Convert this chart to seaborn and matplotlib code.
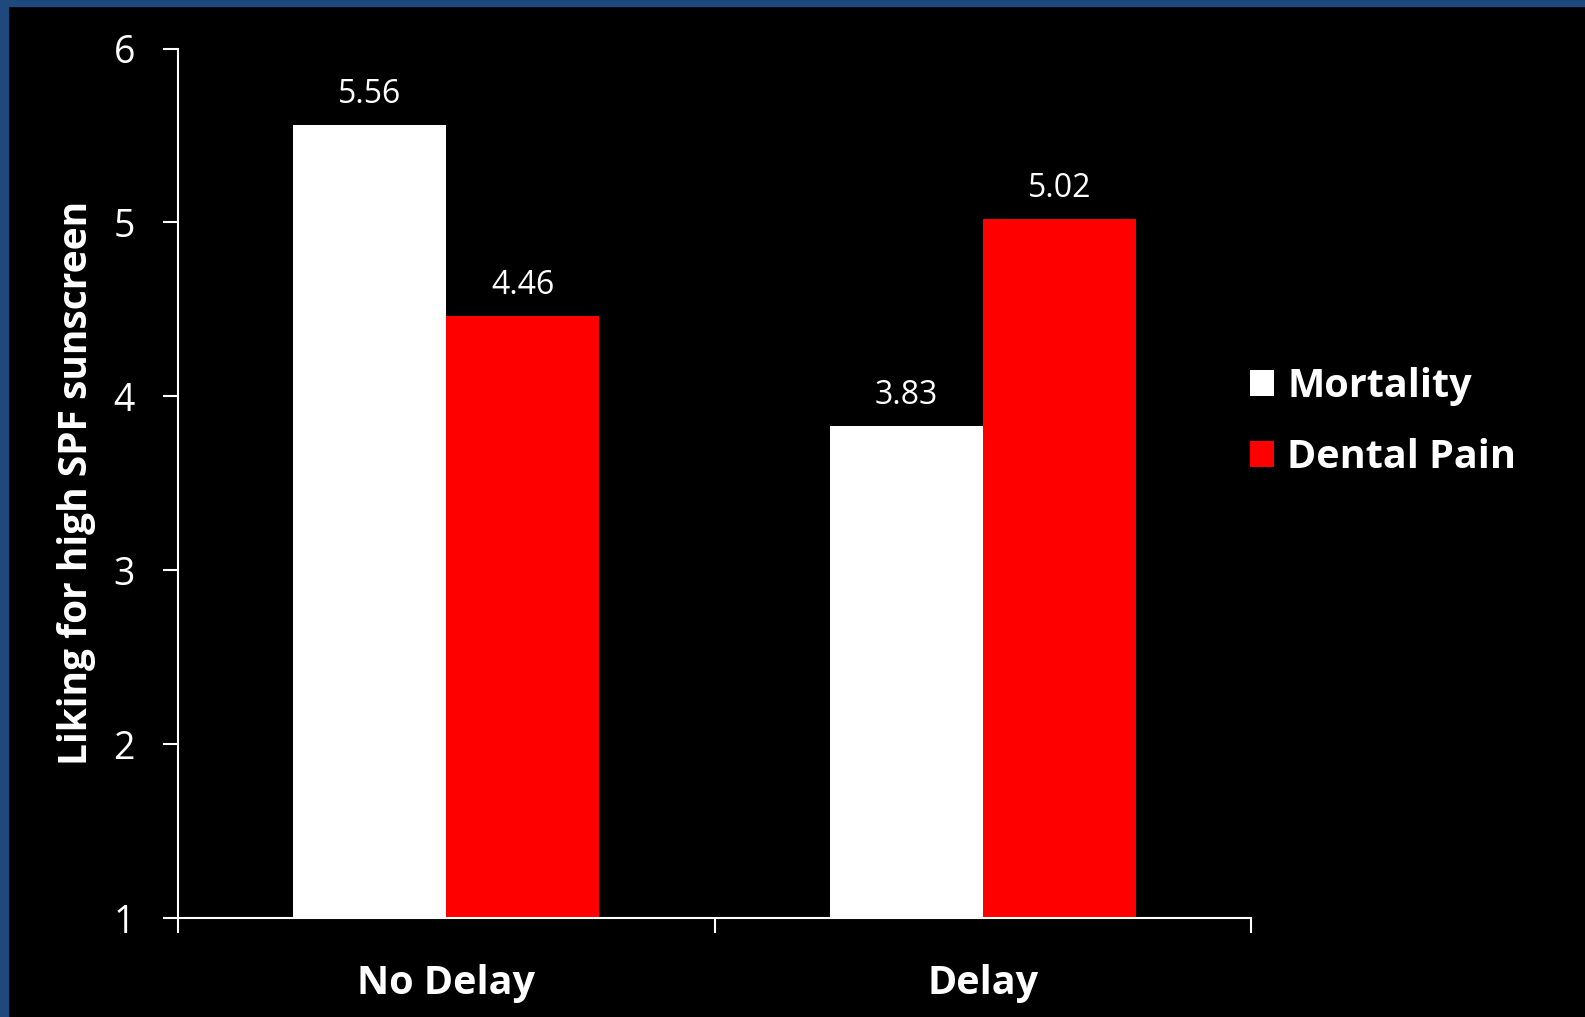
import seaborn as sns
import pandas as pd
import matplotlib.pyplot as plt
from matplotlib.patches import Rectangle

# chart values
conditions = ['No Delay', 'Delay']
groups = ['Mortality', 'Dental Pain']
mortality = [5.56, 3.83]
dental_pain = [4.46, 5.02]
y_ticks = [1, 2, 3, 4, 5, 6]

df = pd.DataFrame({
    'condition': conditions * 2,
    'group': [groups[0]] * 2 + [groups[1]] * 2,
    'liking': mortality + dental_pain,
})

sns.set_style('dark')
plt.rcParams['font.family'] = ['Open Sans', 'DejaVu Sans']

fig = plt.figure(figsize=(15.85, 10.17), dpi=100)
fig.patch.set_facecolor('black')
# blue slide frame on the top and left edges
fig.add_artist(Rectangle((0, 0), 8 / 1585, 1, transform=fig.transFigure, color='#1f497d', zorder=0))
fig.add_artist(Rectangle((0, 1 - 6 / 1017), 1, 6 / 1017, transform=fig.transFigure, color='#1f497d', zorder=0))

ax = fig.add_axes([0.1123, 0.0973, 0.6770, 0.855])
ax.set_facecolor('black')

sns.barplot(data=df, x='condition', y='liking', hue='group', order=conditions,
            hue_order=groups, palette=['white', '#ff0000'], width=0.57,
            saturation=1, linewidth=0, ax=ax)

for cont in ax.containers:
    ax.bar_label(cont, fmt='%.2f', padding=10, color='white', fontsize=23)

ax.set_ylim(1, 6)
ax.set_xlim(-0.5, 1.5)
ax.set_yticks(y_ticks)
ax.set_yticklabels([str(t) for t in y_ticks], fontsize=27, color='white')
ax.set_xticks([-0.5, 0.5, 1.5])
ax.set_xticklabels([])
ax.set_xticks([0, 1], minor=True)
ax.set_xticklabels(conditions, minor=True, fontsize=28.5, fontweight='bold', color='white')
ax.tick_params(axis='x', which='minor', bottom=False, length=0, pad=33)
ax.tick_params(axis='both', which='major', bottom=True, left=True, direction='out',
               length=11, width=1.5, color='white')
ax.tick_params(axis='y', pad=20)
ax.set_xlabel('')
ax.set_ylabel('Liking for high SPF sunscreen', fontsize=28, fontweight='bold', color='white')
ax.yaxis.set_label_coords(-0.076, 0.5)
ax.grid(False)

for side in ['top', 'right']:
    ax.spines[side].set_visible(False)
for side in ['left', 'bottom']:
    ax.spines[side].set_visible(True)
    ax.spines[side].set_color('white')
    ax.spines[side].set_linewidth(1.5)

leg = ax.legend(frameon=False, loc='center left', bbox_to_anchor=(0.766, 0.585),
                bbox_transform=fig.transFigure, fontsize=28.5, handlelength=0.62,
                handleheight=0.62, handletextpad=0.33, labelspacing=0.8)
for t in leg.get_texts():
    t.set_color('white')
    t.set_fontweight('bold')

fig.savefig('out.png', dpi=100, facecolor=fig.get_facecolor())
